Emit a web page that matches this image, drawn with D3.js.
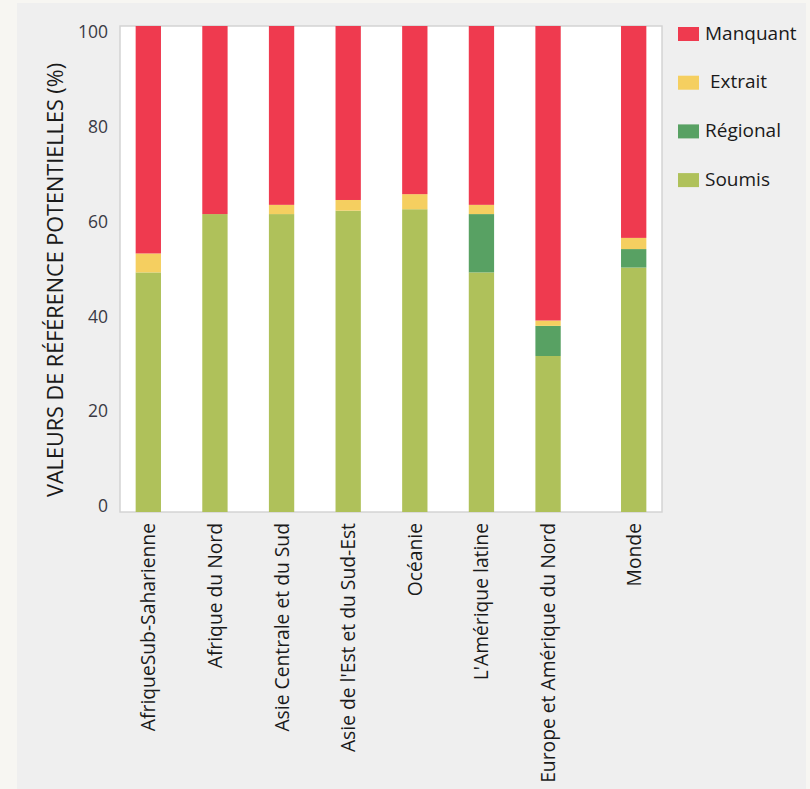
<!DOCTYPE html>
<html><head><meta charset="utf-8">
<script src="https://cdn.jsdelivr.net/npm/d3@7"></script>
<style>
html,body{margin:0;padding:0;background:#f7f6f2;}
svg{display:block;}
</style></head>
<body>
<svg id="chart" width="810" height="789"></svg>
<script>
const categories = ["AfriqueSub-Saharienne","Afrique du Nord","Asie Centrale et du Sud","Asie de l'Est et du Sud-Est","Océanie","L'Amérique latine","Europe et Amérique du Nord","Monde"];
const soumis   = [49.3, 61.3, 61.3, 62.0, 62.3, 49.3, 32.1, 50.3];
const regional = [0,    0,    0,    0,    0,    12.0, 6.2,  3.8];
const extrait  = [3.9,  0,    1.9,  2.2,  3.1,  1.9,  1.1,  2.3];
const manquant = [46.8, 38.7, 36.8, 35.8, 34.6, 36.8, 60.6, 43.6];
const seriesNames = ["Soumis","Régional","Extrait","Manquant"];
const legendOrder = ["Manquant","Extrait","Régional","Soumis"];
const legendLabels = {"Manquant":"Manquant","Extrait":" Extrait","Régional":"Régional","Soumis":"Soumis"};
const yTicks = [0,20,40,60,80,100];
const yTitle = "VALEURS DE RÉFÉRENCE POTENTIELLES (%)";

const colors = {"Soumis":"#afc15a","Régional":"#58a163","Extrait":"#f5cf60","Manquant":"#ef3a4f"};
const font = "'Open Sans', 'Noto Sans', sans-serif";

const rows = categories.map((c,i)=>({cat:c,"Soumis":soumis[i],"Régional":regional[i],"Extrait":extrait[i],"Manquant":manquant[i]}));
const stacked = d3.stack().keys(seriesNames)(rows);

const svg = d3.select("#chart");
svg.append("rect").attr("x",17).attr("y",3).attr("width",789).attr("height",786).attr("fill","#efefef");

const plot = {left:120, top:26, right:662, bottom:512};
const worldGap = 19;
const x = d3.scaleBand().domain(categories).range([115, 648]).paddingInner(0.62).paddingOuter(0.31);
const xPos = c => x(c) + (c === "Monde" ? worldGap : 0);
const y = d3.scaleLinear().domain([0,100]).range([plot.bottom, plot.top]);
const yLab = d3.scaleLinear().domain([0,100]).range([506, 32]);

svg.append("rect").attr("x",plot.left).attr("y",plot.top).attr("width",plot.right-plot.left).attr("height",plot.bottom-plot.top)
  .attr("fill","#ffffff").attr("stroke","#d4d4d4").attr("stroke-width",1.5);

svg.append("g").selectAll("g").data(stacked).join("g")
  .attr("fill", s => colors[s.key])
  .selectAll("rect").data(s => s).join("rect")
  .attr("x", d => xPos(d.data.cat))
  .attr("width", x.bandwidth())
  .attr("y", d => y(d[1]))
  .attr("height", d => y(d[0]) - y(d[1]));

// y axis labels
const yAxis = svg.append("g").attr("transform","translate(108,0)")
  .call(d3.axisLeft(yLab).tickValues(yTicks).tickSize(0).tickPadding(0));
yAxis.select(".domain").remove();
yAxis.selectAll("text").attr("font-family",font).attr("font-size",17.5).attr("fill","#3a3a44");

// x axis labels
const xAxis = svg.append("g").attr("transform",`translate(0,${plot.bottom})`)
  .call(d3.axisBottom(x).tickSize(0).tickPadding(0));
xAxis.select(".domain").remove();
xAxis.selectAll(".tick").attr("transform", c => `translate(${xPos(c) + x.bandwidth()/2},0)`);
xAxis.selectAll("text")
  .attr("font-family",font).attr("font-size",19.3).attr("fill","#1a1a1a")
  .attr("text-anchor","end").attr("dy",null).attr("y",0)
  .attr("transform","translate(7,11) rotate(-90)");

// y title
svg.append("text").attr("transform","translate(62.5,280) rotate(-90)")
  .attr("text-anchor","middle").attr("font-family",font).attr("font-size",21.5).attr("fill","#1a1a1a")
  .attr("textLength",434).attr("lengthAdjust","spacingAndGlyphs")
  .text(yTitle);

// legend
const lg = svg.append("g").selectAll("g").data(legendOrder).join("g")
  .attr("transform",(d,i)=>`translate(678,${27 + i*48.7})`);
lg.append("rect").attr("width",21).attr("height",14).attr("fill",d=>colors[d]);
lg.append("text").attr("x",27).attr("y",6).attr("dy","0.35em")
  .attr("font-family",font).attr("font-size",19).attr("fill","#1a1a1a")
  .attr("xml:space","preserve").style("white-space","pre")
  .text(d=>legendLabels[d]);
</script>
</body></html>
